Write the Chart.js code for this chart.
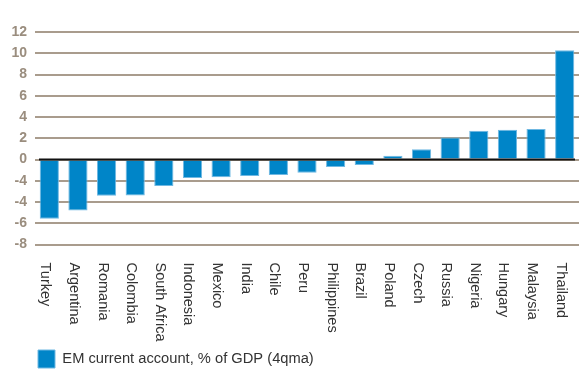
<!DOCTYPE html>
<html>
<head>
<meta charset="utf-8">
<script src="https://cdn.jsdelivr.net/npm/chart.js@4/dist/chart.umd.min.js"></script>
<style>
  html, body { margin: 0; padding: 0; background: #ffffff; }
  #wrap { width: 580px; height: 392px; position: relative; }
</style>
</head>
<body>
<div id="wrap"><canvas id="c" width="580" height="392"></canvas></div>
<script>
const categories = ['Turkey', 'Argentina', 'Romania', 'Colombia', 'South Africa', 'Indonesia', 'Mexico', 'India', 'Chile', 'Peru', 'Philippines', 'Brazil', 'Poland', 'Czech', 'Russia', 'Nigeria', 'Hungary', 'Malaysia', 'Thailand'];
const currentAccount = [-5.57, -4.79, -3.4, -3.38, -2.5, -1.75, -1.68, -1.56, -1.45, -1.25, -0.7, -0.52, 0.35, 0.97, 2.07, 2.7, 2.8, 2.86, 10.28];
const seriesLabel = 'EM current account, % of GDP (4qma)';
const tickValues = [-8, -6, -4, -2, 0, 2, 4, 6, 8, 10, 12];
const tickLabels = ['-8', '-6', '-4', '-4', '0', '2', '4', '6', '8', '10', '12'];

const FONT = '"Liberation Sans", Arial, sans-serif';

// zero axis line drawn over the bars, and category labels reading top-to-bottom
const axisExtras = {
  id: 'axisExtras',
  afterDatasetsDraw(chart) {
    const y = chart.scales.y.getPixelForValue(0);
    const a = chart.chartArea;
    const ctx = chart.ctx;
    ctx.save();
    ctx.strokeStyle = '#111111';
    ctx.lineWidth = 2;
    ctx.beginPath();
    ctx.moveTo(a.left + 4, y);
    ctx.lineTo(a.right - 4, y);
    ctx.stroke();
    ctx.restore();
  },
  afterDraw(chart) {
    const xs = chart.scales.x;
    const ctx = chart.ctx;
    const top = chart.chartArea.bottom + 18;
    ctx.save();
    ctx.fillStyle = '#333333';
    ctx.font = '14.5px ' + FONT;
    ctx.textAlign = 'left';
    ctx.textBaseline = 'middle';
    chart.data.labels.forEach((lab, i) => {
      const x = xs.getPixelForTick(i) - 4;
      ctx.save();
      ctx.translate(x, top);
      ctx.rotate(Math.PI / 2);
      ctx.fillText(lab, 0, 0);
      ctx.restore();
    });
    ctx.restore();
  }
};

new Chart(document.getElementById('c'), {
  type: 'bar',
  data: {
    labels: categories,
    datasets: [{
      label: seriesLabel,
      data: currentAccount,
      backgroundColor: '#0085C8',
      borderColor: '#6FB8E2',
      borderWidth: 1,
      barPercentage: 0.67,
      categoryPercentage: 1.0
    }]
  },
  options: {
    responsive: false,
    animation: false,
    devicePixelRatio: 1,
    layout: { padding: { top: 32, right: 1, bottom: 14, left: 11 } },
    plugins: {
      tooltip: { enabled: false },
      legend: {
        position: 'bottom',
        align: 'start',
        labels: {
          boxWidth: 17,
          boxHeight: 18,
          padding: 27,
          color: '#333333',
          font: { family: FONT, size: 14.7 }
        }
      }
    },
    scales: {
      x: {
        border: { display: false },
        grid: { display: false, drawTicks: false },
        afterFit(scale) { scale.height = 78.5; },
        ticks: { display: false, autoSkip: false }
      },
      y: {
        min: -8,
        max: 12,
        border: { display: false },
        afterFit(scale) { scale.width = 24; },
        afterBuildTicks(scale) { scale.ticks = tickValues.map(v => ({ value: v })); },
        grid: {
          color: '#A99C8D',
          lineWidth: 2,
          drawTicks: false
        },
        ticks: {
          padding: 8,
          color: '#9A8D7E',
          font: { family: FONT, size: 14, weight: 'bold' },
          callback(value) {
            const i = tickValues.indexOf(value);
            return i >= 0 ? tickLabels[i] : '';
          }
        }
      }
    }
  },
  plugins: [axisExtras]
});
</script>
</body>
</html>
